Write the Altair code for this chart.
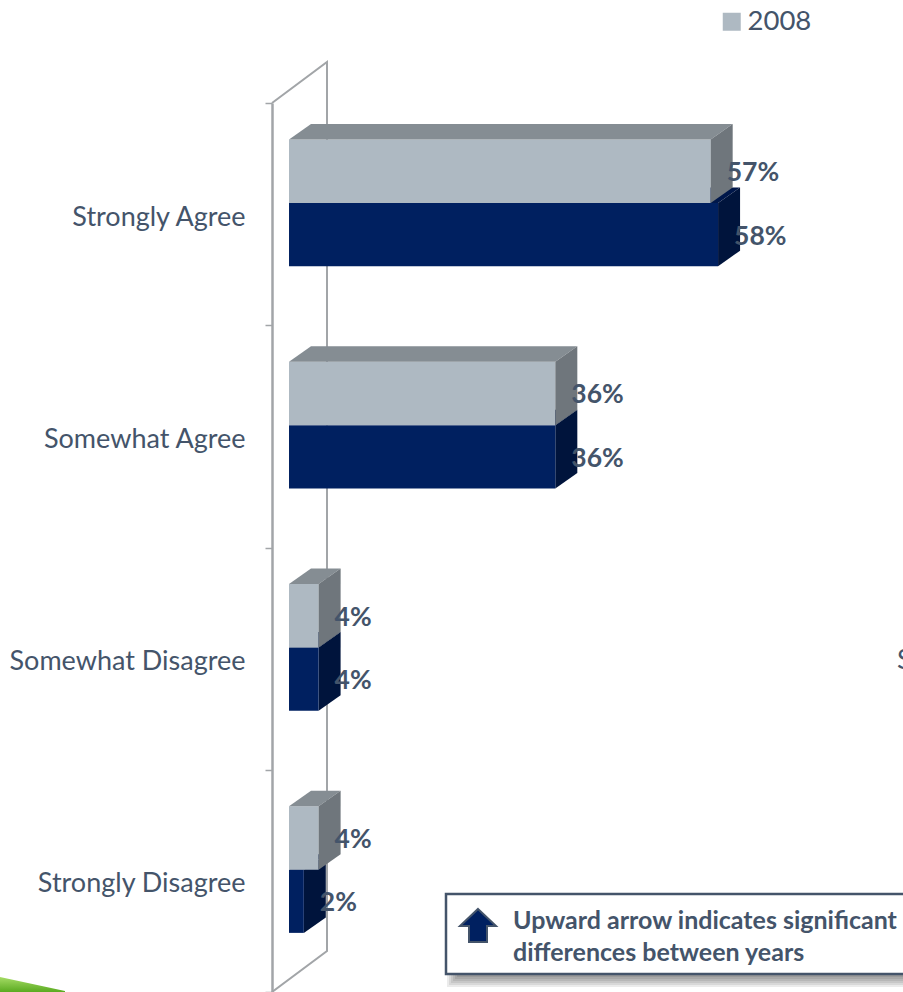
import altair as alt
import pandas as pd

categories = ["Strongly Agree", "Somewhat Agree", "Somewhat Disagree", "Strongly Disagree"]
pct_2008 = [57, 36, 4, 4]
pct_2010 = [58, 36, 4, 2]

FONT = "Lato"
TEXT = "#44546a"
FRONT_LIGHT, TOP_LIGHT, SIDE_LIGHT = "#aeb9c2", "#858d93", "#6f767c"
FRONT_DARK, TOP_DARK, SIDE_DARK = "#002060", "#00174a", "#00143c"
WALL = "#a2a5a8"

# Plot area and scale geometry (one y unit is one category band).
PLOT_W, PLOT_H = 631, 889
X_MIN, X_MAX = -2.3, 83.0
px_x = (X_MAX - X_MIN) / PLOT_W
px_y = 4 / PLOT_H
DEPTH_X, DEPTH_Y = 22 * px_x, 15.5 * px_y
WALL_X, WALL_Y = 55 * px_x, 41 * px_y
ROW_TOP, ROW_MID, ROW_BOTTOM = 0.164, 0.450, 0.734

x_scale = alt.Scale(domain=[X_MIN, X_MAX], range=[0, PLOT_W], nice=False, zero=False)
y_scale = alt.Scale(domain=[0, 4], range=[0, PLOT_H], nice=False, zero=False)
X = alt.X("x:Q", scale=x_scale, axis=None)
Y = alt.Y("y:Q", scale=y_scale, axis=None)


def series_rows(values, year, top, bottom):
    front, side, roof, labels = [], [], [], []
    for i, (cat, v) in enumerate(zip(categories, values)):
        y0, y1 = i + top, i + bottom
        front.append(dict(category=cat, year=year, x=0, x2=v, y=y0, y2=y1))
        side.append(dict(category=cat, x=v, y=y0, y2=y1))
        side.append(dict(category=cat, x=v + DEPTH_X, y=y0 - DEPTH_Y, y2=y1 - DEPTH_Y))
        roof.append(dict(category=cat, y=y0, x=0, x2=v))
        roof.append(dict(category=cat, y=y0 - DEPTH_Y, x=DEPTH_X, x2=v + DEPTH_X))
        labels.append(dict(x=v, y=(y0 + y1) / 2, label=f"{v}%"))
    return map(pd.DataFrame, (front, side, roof, labels))


front_l, side_l, roof_l, labels_l = series_rows(pct_2008, "2008", ROW_TOP, ROW_MID)
front_d, side_d, roof_d, labels_d = series_rows(pct_2010, "2010", ROW_MID, ROW_BOTTOM)


def side_face(df, color):
    return alt.Chart(df).mark_area(orient="vertical", color=color, clip=False).encode(
        x=X, y=Y, y2="y2:Q", detail="category:N"
    )


def roof_face(df, color):
    return alt.Chart(df).mark_area(orient="horizontal", color=color, clip=False).encode(
        y=Y, x=X, x2="x2:Q", detail="category:N"
    )


# Category axis: labels in the middle of each band, ticks on the band edges.
axis_layer = alt.Chart(pd.DataFrame({"category": categories})).mark_rect(opacity=0).encode(
    y=alt.Y(
        "category:N",
        sort=categories,
        title=None,
        scale=alt.Scale(type="band", domain=categories, range=[0, PLOT_H], paddingInner=0, paddingOuter=0),
        axis=alt.Axis(
            tickBand="extent",
            domainColor=WALL,
            domainWidth=2.5,
            tickColor=WALL,
            tickWidth=1.5,
            tickSize=7,
            labelPadding=20,
            labelOffset=3,
            labelFont=FONT,
            labelFontSize=27,
            labelColor=TEXT,
            labelLimit=300,
        ),
    )
)

# Receding walls of the 3-D frame.
wall_path = pd.DataFrame(
    {
        "step": [0, 1, 2, 3],
        "x": [X_MIN, X_MIN + WALL_X, X_MIN + WALL_X, X_MIN],
        "y": [0, -WALL_Y, 4 - WALL_Y, 4],
    }
)
wall = alt.Chart(wall_path).mark_line(color=WALL, strokeWidth=2, clip=False).encode(
    x=X, y=Y, order="step:Q"
)

# Green ribbon in the lower left corner of the slide.
ribbon = alt.Chart(
    pd.DataFrame(
        {
            "x": [X_MIN - 272 * px_x, X_MIN - 207 * px_x],
            "y": [3.932, 3.996],
            "y2": [4.0, 4.0],
        }
    )
).mark_area(
    orient="vertical",
    clip=False,
    color=alt.Gradient(
        gradient="linear",
        x1=0, y1=0, x2=0, y2=1,
        stops=[alt.GradientStop(offset=0, color="#a6dc66"), alt.GradientStop(offset=1, color="#5aaa20")],
    ),
).encode(x=X, y=Y, y2="y2:Q")

# Front faces carry the colour scale; only the first year is listed in the key.
fronts = alt.Chart(pd.concat([front_d, front_l])).mark_rect(clip=False).encode(
    x=X,
    x2="x2:Q",
    y=Y,
    y2="y2:Q",
    color=alt.Color(
        "year:N",
        scale=alt.Scale(domain=["2008", "2010"], range=[FRONT_LIGHT, FRONT_DARK]),
        legend=alt.Legend(
            values=["2008"],
            orient="none",
            legendX=446,
            legendY=-95,
            title=None,
            symbolType="square",
            symbolSize=324,
            symbolStrokeWidth=0,
            labelFont=FONT,
            labelFontSize=27.5,
            labelColor=TEXT,
            labelOffset=2,
            padding=0,
        ),
    ),
)

labels = alt.Chart(pd.concat([labels_l, labels_d])).mark_text(
    align="left", baseline="middle", dx=16, dy=2, font=FONT, fontSize=26.5, fontWeight="bold", color=TEXT, clip=False
).encode(x=X, y=Y, text="label:N")

# Partly cut-off label of the neighbouring panel at the right edge.
edge_label = alt.Chart(pd.DataFrame({"t": ["Somewhat Disagree"]})).mark_text(
    align="left", baseline="middle", font=FONT, fontSize=27, color=TEXT, clip=False
).encode(x=alt.value(625), y=alt.value(558), text="t:N")

# Note box with soft drop shadow.
def box_rect(x0, y0, x1, y1, **style):
    return alt.Chart(pd.DataFrame({"a": [0]})).mark_rect(clip=False, **style).encode(
        x=alt.value(x0), x2=alt.value(x1), y=alt.value(y0), y2=alt.value(y1)
    )


BOX_L, BOX_T, BOX_B = 446 - 272, 894 - 103, 974 - 103
shadows = [
    box_rect(BOX_L + 8 - g, BOX_T + 6 - g, 700, BOX_B + 6 + g, color="#000000", opacity=0.08)
    for g in (7, 5, 3, 1, -1, -3)
]
box = box_rect(BOX_L, BOX_T, 700, BOX_B, fill="#ffffff", stroke=TEXT, strokeWidth=2.5)

ARROW = "M0,-1 L1,-0.05 L0.5,-0.05 L0.5,0.83 L-0.5,0.83 L-0.5,-0.05 L-1,-0.05 Z"
arrow = alt.Chart(pd.DataFrame({"a": [0]})).mark_point(
    shape=ARROW, size=1296, filled=True, fill=FRONT_DARK, stroke=TEXT, strokeWidth=2, opacity=1, clip=False
).encode(x=alt.value(478 - 272), y=alt.value(927 - 103))

note = alt.Chart(
    pd.DataFrame(
        {"t": ["Upward arrow indicates significant", "differences between years"], "py": [921 - 103, 953 - 103]}
    )
).mark_text(align="left", baseline="middle", font=FONT, fontSize=25, fontWeight="bold", color=TEXT, clip=False).encode(
    x=alt.value(513 - 272), y=alt.Y("py:Q", scale=None), text="t:N"
)

chart = (
    alt.layer(
        axis_layer,
        wall,
        ribbon,
        roof_face(roof_d, TOP_DARK),
        side_face(side_d, SIDE_DARK),
        fronts,
        roof_face(roof_l, TOP_LIGHT),
        side_face(side_l, SIDE_LIGHT),
        labels,
        edge_label,
        *shadows,
        box,
        arrow,
        note,
    )
    .resolve_scale(y="independent", x="shared")
    .properties(
        width=PLOT_W,
        height=PLOT_H,
        padding={"left": 272, "top": 103, "right": 0, "bottom": 0},
        autosize=alt.AutoSizeParams(type="none"),
        background="#ffffff",
    )
    .configure_view(strokeWidth=0)
)

chart.save("out.html", embed_options={"renderer": "svg", "actions": False})
